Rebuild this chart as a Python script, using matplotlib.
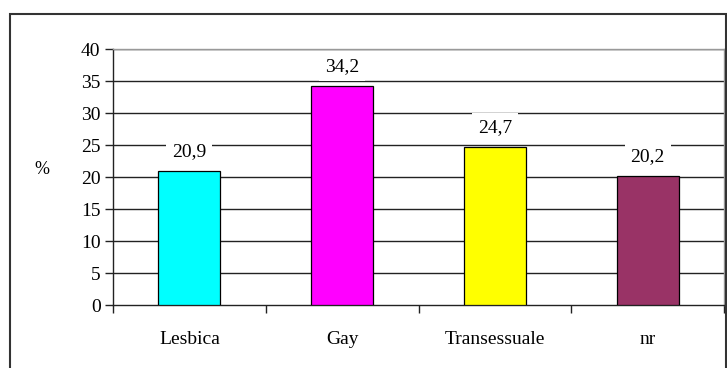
import matplotlib
matplotlib.use("Agg")
import matplotlib.pyplot as plt
from matplotlib.patches import Rectangle

categories = ["Lesbica", "Gay", "Transessuale", "nr"]
values = [20.9, 34.2, 24.7, 20.2]
colors = ["#00FFFF", "#FF00FF", "#FFFF00", "#993366"]
yticks = [0, 5, 10, 15, 20, 25, 30, 35, 40]

plt.rcParams["font.family"] = ["Liberation Serif", "DejaVu Serif"]

W, H = 727, 368
fig = plt.figure(figsize=(W / 100, H / 100), dpi=100)
fig.patch.set_facecolor("white")

# outer chart frame
frame = Rectangle((10 / W, -0.02), (726 - 10) / W, 1 - 14 / H + 0.02,
                  transform=fig.transFigure, fill=False,
                  edgecolor="#333333", linewidth=1.5, clip_on=False)
fig.patches.append(frame)

left, right, top, bottom = 113, 724, 49, 305
ax = fig.add_axes([left / W, 1 - bottom / H, (right - left) / W, (bottom - top) / H])

x = list(range(len(categories)))
ax.bar(x, values, width=0.405, color=colors, edgecolor="black", linewidth=0.9, zorder=3)

ax.set_xlim(-0.5, len(categories) - 0.5)
ax.set_ylim(0, 40)
ax.set_yticks(yticks)
ax.set_yticklabels([str(t) for t in yticks], fontsize=14)
for t in yticks[1:]:
    ax.axhline(t, color="#222222", linewidth=1.0, zorder=1)

ax.set_xticks(x)
ax.set_xticklabels(categories, fontsize=14)
ax.tick_params(axis="x", length=0, pad=19)
ax.set_xticks([i - 0.5 for i in range(len(categories) + 1)], minor=True)
ax.tick_params(axis="x", which="minor", length=6, width=1.0, color="#222222", direction="out")
ax.tick_params(axis="y", length=6, width=1.0, color="#222222", direction="out", pad=3)

for side in ["top", "right"]:
    ax.spines[side].set_color("#999999")
    ax.spines[side].set_linewidth(1.0)
for side in ["left", "bottom"]:
    ax.spines[side].set_color("#222222")
    ax.spines[side].set_linewidth(1.0)

fig.text(42 / W, 1 - 170 / H, "%", fontsize=13, ha="center", va="center")

for xi, v in zip(x, values):
    ax.annotate(f"{v:.1f}".replace(".", ","), (xi, v), xytext=(0, 8),
                textcoords="offset points", ha="center", va="bottom", fontsize=14,
                zorder=4,
                bbox=dict(boxstyle="square,pad=0.3", facecolor="white", edgecolor="none"))

fig.savefig("out.png", dpi=100)
